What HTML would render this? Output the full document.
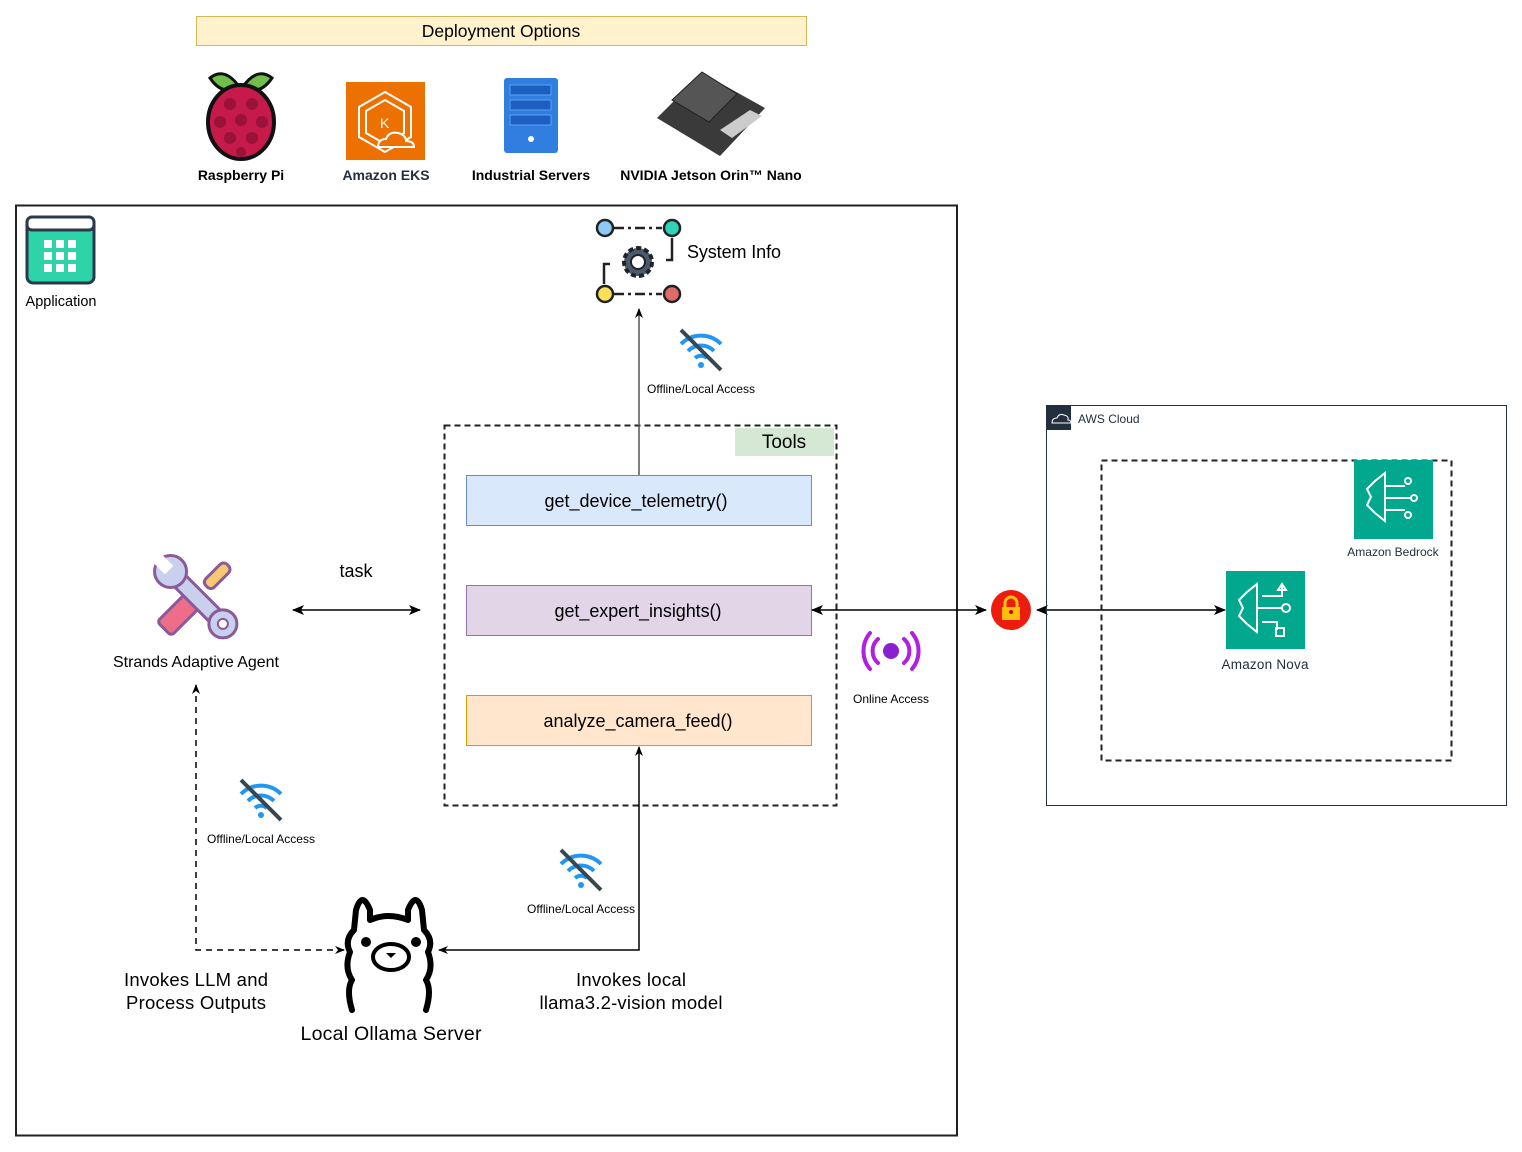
<!DOCTYPE html>
<html><head><meta charset="utf-8"><style>
html,body{margin:0;padding:0;background:#fff}
svg{display:block;font-family:"Liberation Sans",Arial,sans-serif}
</style></head><body>
<svg width="1522" height="1152" viewBox="0 0 1522 1152" xmlns="http://www.w3.org/2000/svg">
<defs>
<marker id="ar" markerWidth="12" markerHeight="12" refX="11" refY="6" orient="auto-start-reverse" markerUnits="userSpaceOnUse"><path d="M0,1 L12,6 L0,11 L3,6 z" fill="#000"/></marker>
<marker id="ars" markerWidth="10" markerHeight="10" refX="9" refY="5" orient="auto-start-reverse" markerUnits="userSpaceOnUse"><path d="M0,1 L10,5 L0,9 L3,5 z" fill="#000"/></marker>
</defs>
<!-- Deployment options -->
<rect x="196.5" y="16.5" width="610" height="29" fill="#fff2cc" stroke="#d6b656"/>
<text x="501" y="37" font-size="17.5" text-anchor="middle">Deployment Options</text>
<!-- raspberry -->
<g>
<path d="M210,78 q15,-12 30,10 q-18,8 -30,-10z M272,78 q-15,-12 -30,10 q18,8 30,-10z" fill="#6fbf4a" stroke="#111" stroke-width="3"/>
<ellipse cx="241" cy="122" rx="33" ry="37" fill="#c51a4a" stroke="#111" stroke-width="4"/>
<g fill="#9a1238"><circle cx="230" cy="104" r="6"/><circle cx="252" cy="104" r="6"/><circle cx="220" cy="122" r="6"/><circle cx="241" cy="120" r="6"/><circle cx="262" cy="122" r="6"/><circle cx="230" cy="138" r="6"/><circle cx="252" cy="138" r="6"/><circle cx="241" cy="152" r="5"/></g>
</g>
<text x="241" y="180" font-size="14" font-weight="bold" text-anchor="middle">Raspberry Pi</text>
<!-- EKS -->
<rect x="346" y="82" width="79" height="78" fill="#ed7100"/>
<path d="M385,92 l26,15 v30 l-26,15 l-26,-15 v-30z" fill="none" stroke="#fff" stroke-width="2"/>
<path d="M385,100 l19,11 v22 l-19,11 l-19,-11 v-22z" fill="none" stroke="#fff" stroke-width="2"/>
<text x="380" y="128" font-size="14" fill="#fff">K</text>
<path d="M378,147 q0,-8 8,-8 q3,-8 12,-6 q8,2 8,8 q8,0 8,6z" fill="#ed7100" stroke="#fff" stroke-width="2"/>
<text x="386" y="180" font-size="14" font-weight="bold" fill="#232f3e" text-anchor="middle">Amazon EKS</text>
<!-- server -->
<rect x="504" y="78" width="54" height="75" rx="3" fill="#2f7ee0"/>
<rect x="510" y="85" width="41" height="10" fill="#1d5fc0" stroke="#5aa0f0"/>
<rect x="510" y="100" width="41" height="10" fill="#1d5fc0" stroke="#5aa0f0"/>
<rect x="510" y="115" width="41" height="10" fill="#1d5fc0" stroke="#5aa0f0"/>
<circle cx="531" cy="139" r="3" fill="#fff"/>
<text x="531" y="180" font-size="14" font-weight="bold" text-anchor="middle">Industrial Servers</text>
<!-- jetson -->
<path d="M657,118 l45,-45 l63,35 l-45,48z" fill="#3a3a3a"/>
<path d="M672,100 l30,-28 l35,22 l-28,28z" fill="#555" stroke="#222"/>
<path d="M720,130 l30,-20 l12,6 l-30,22z" fill="#ccc"/>
<text x="711" y="180" font-size="14" font-weight="bold" text-anchor="middle">NVIDIA Jetson Orin™ Nano</text>
<!-- main container -->
<rect x="16" y="205.5" width="941" height="930" fill="none" stroke="#222" stroke-width="2"/>
<!-- app icon -->
<rect x="27" y="217" width="67" height="66" rx="6" fill="#2dd4a7" stroke="#2b3a4a" stroke-width="3"/>
<rect x="27" y="217" width="67" height="13" rx="5" fill="#fff" stroke="#2b3a4a" stroke-width="3"/>
<g fill="#fff"><rect x="44" y="240" width="8" height="8"/><rect x="56" y="240" width="8" height="8"/><rect x="68" y="240" width="8" height="8"/><rect x="44" y="252" width="8" height="8"/><rect x="56" y="252" width="8" height="8"/><rect x="68" y="252" width="8" height="8"/><rect x="44" y="264" width="8" height="8"/><rect x="56" y="264" width="8" height="8"/><rect x="68" y="264" width="8" height="8"/></g>
<text x="61" y="306" font-size="14.5" text-anchor="middle">Application</text>
<!-- system info icon -->
<g stroke="#222" stroke-width="2.5" fill="none">
<path d="M614,228 h48" stroke-dasharray="10,4,3,4"/><path d="M614,294 h48" stroke-dasharray="10,4,3,4"/>
<path d="M604,284 v-20 h6"/><path d="M672,238 v22 h-6"/>
</g>
<circle cx="605" cy="228" r="8" fill="#8ec9f5" stroke="#222" stroke-width="2.5"/>
<circle cx="672" cy="228" r="8" fill="#2dd4b8" stroke="#222" stroke-width="2.5"/>
<circle cx="605" cy="294" r="8" fill="#fbe05a" stroke="#222" stroke-width="2.5"/>
<circle cx="672" cy="294" r="8" fill="#e06a6a" stroke="#222" stroke-width="2.5"/>
<circle cx="638" cy="262" r="14" fill="#4a5a70" stroke="#222" stroke-width="4" stroke-dasharray="5,3"/>
<circle cx="638" cy="262" r="7" fill="#fff" stroke="#222" stroke-width="2"/>
<text x="687" y="258" font-size="18" textLength="94">System Info</text>
<!-- wifi-off icons -->
<g id="wf">
<g transform="translate(701,350)">
<path d="M-20,-6 a28,28 0 0 1 40,0" fill="none" stroke="#2196f3" stroke-width="4"/>
<path d="M-13,1 a18,18 0 0 1 26,0" fill="none" stroke="#2196f3" stroke-width="4"/>
<path d="M-6,8 a9,9 0 0 1 12,0" fill="none" stroke="#2196f3" stroke-width="4"/>
<circle cx="0" cy="15" r="3" fill="#2196f3"/>
<path d="M-20,-20 L20,20" stroke="#37474f" stroke-width="4"/>
</g></g>
<text x="701" y="393" font-size="12" text-anchor="middle" textLength="108">Offline/Local Access</text>
<use href="#wf" transform="translate(-440,450)"/>
<text x="261" y="843" font-size="12" text-anchor="middle" textLength="108">Offline/Local Access</text>
<use href="#wf" transform="translate(-120,520)"/>
<text x="581" y="913" font-size="12" text-anchor="middle" textLength="108">Offline/Local Access</text>
<!-- tools -->
<rect x="444.5" y="425.5" width="392" height="380" fill="none" stroke="#222" stroke-width="2" stroke-dasharray="6,4"/>
<rect x="735" y="428" width="99" height="28" fill="#d5e8d4"/>
<text x="784" y="448" font-size="19" text-anchor="middle">Tools</text>
<line x1="639" y1="475" x2="639" y2="309" stroke="#555" stroke-width="1.5" marker-end="url(#ars)"/>
<rect x="466.5" y="475.5" width="345" height="50" fill="#dae8fc" stroke="#6c8ebf"/>
<text x="636" y="507" font-size="18" text-anchor="middle" textLength="183">get_device_telemetry()</text>
<rect x="466.5" y="585.5" width="345" height="50" fill="#e1d5e7" stroke="#9673a6"/>
<text x="638" y="617" font-size="18" text-anchor="middle" textLength="167">get_expert_insights()</text>
<rect x="466.5" y="695.5" width="345" height="50" fill="#ffe6cc" stroke="#d79b00"/>
<text x="638" y="727" font-size="18" text-anchor="middle" textLength="189">analyze_camera_feed()</text>
<!-- agent -->
<g transform="translate(196,597) rotate(45)">
<rect x="-6" y="-45" width="12" height="30" rx="5" fill="#f7c873" stroke="#8a5a9a" stroke-width="3"/>
<rect x="-10" y="5" width="20" height="40" rx="4" fill="#ee6e8a" stroke="#8a5a9a" stroke-width="3"/>
</g>
<g transform="translate(196,597) rotate(-45)">
<rect x="-8" y="-32" width="16" height="64" fill="#c8d0ee" stroke="#8a5a9a" stroke-width="3"/>
<circle cx="0" cy="-36" r="16" fill="#c8d0ee" stroke="#8a5a9a" stroke-width="3"/>
<rect x="-6" y="-56" width="12" height="18" fill="#fff"/>
<circle cx="0" cy="38" r="14" fill="#c8d0ee" stroke="#8a5a9a" stroke-width="3"/>
<circle cx="0" cy="38" r="5" fill="#fff" stroke="#8a5a9a" stroke-width="2"/>
</g>
<text x="196" y="667" font-size="16" text-anchor="middle" textLength="166">Strands Adaptive Agent</text>
<text x="356" y="577" font-size="18" text-anchor="middle">task</text>
<line x1="293" y1="610" x2="420" y2="610" stroke="#000" stroke-width="1.5" marker-start="url(#ar)" marker-end="url(#ar)"/>
<!-- online link -->
<line x1="812" y1="610" x2="986" y2="610" stroke="#000" stroke-width="1.5" marker-start="url(#ar)" marker-end="url(#ar)"/>
<circle cx="1011" cy="610" r="20" fill="#ee1c0e"/>
<rect x="1002" y="607" width="18" height="13" fill="#fbbf0e"/>
<path d="M1005,607 v-4 a6,6 0 0 1 12,0 v4" fill="none" stroke="#fbbf0e" stroke-width="3"/>
<circle cx="1011" cy="612" r="2" fill="#c00"/>
<line x1="1037" y1="610" x2="1225" y2="610" stroke="#000" stroke-width="1.5" marker-start="url(#ar)" marker-end="url(#ar)"/>
<g fill="none" stroke="#b020e0" stroke-width="4" stroke-linecap="round">
<path d="M870,633 a28,28 0 0 0 0,36"/><path d="M878,639 a16,16 0 0 0 0,24"/>
<path d="M912,633 a28,28 0 0 1 0,36"/><path d="M904,639 a16,16 0 0 1 0,24"/>
</g>
<circle cx="891" cy="651" r="8" fill="#8a1ed0"/>
<text x="891" y="703" font-size="12" text-anchor="middle" textLength="76">Online Access</text>
<!-- AWS -->
<rect x="1046.5" y="405.5" width="460" height="400" fill="none" stroke="#232f3e"/>
<rect x="1046" y="405" width="25" height="25" fill="#232f3e"/>
<path d="M1052,423 q0,-5 5,-5 q2,-5 7,-3 q5,1 4,5 q3,0 3,3z" fill="none" stroke="#fff" stroke-width="1"/>
<text x="1078" y="423" font-size="12" fill="#232f3e">AWS Cloud</text>
<rect x="1101.5" y="460.5" width="350" height="300" fill="none" stroke="#222" stroke-width="2" stroke-dasharray="6,4"/>
<rect x="1354" y="460" width="79" height="79" fill="#01a88d"/>
<g fill="none" stroke="#fff" stroke-width="2"><path d="M1385,473 l-10,8 l-8,8 l4,8 l-4,8 l8,8 l10,8 v-48z"/><path d="M1385,486 h20 M1385,498 h25 M1385,510 h20"/><circle cx="1408" cy="481" r="3"/><circle cx="1414" cy="498" r="3"/><circle cx="1408" cy="515" r="3"/></g>
<text x="1393" y="556" font-size="12" fill="#232f3e" text-anchor="middle">Amazon Bedrock</text>
<rect x="1226" y="571" width="79" height="78" fill="#01a88d"/>
<g fill="none" stroke="#fff" stroke-width="2"><path d="M1257,584 l-10,8 l-8,8 l4,8 l-4,8 l8,8 l10,8 v-48z"/><path d="M1257,608 h24 M1262,596 h20 v-12 M1262,622 h15 v8"/><circle cx="1286" cy="608" r="4"/><path d="M1278,590 l4,-6 l4,6z"/><rect x="1276" y="628" width="8" height="8"/></g>
<text x="1265" y="669" font-size="13.5" fill="#232f3e" text-anchor="middle" textLength="87">Amazon Nova</text>
<!-- llama -->
<g fill="none" stroke="#000" stroke-width="6" stroke-linecap="round" stroke-linejoin="round">
<path d="M352,1010 q-6,-20 0,-30 q-8,-12 -2,-28 q-6,-12 4,-22 l2,-20 q6,-20 14,0 v10 q18,-8 38,0 v-10 q8,-20 14,0 l2,20 q10,10 4,22 q6,16 -2,28 q6,10 0,30"/>
</g>
<circle cx="366" cy="942" r="5" fill="#000"/><circle cx="416" cy="942" r="5" fill="#000"/>
<ellipse cx="391" cy="957" rx="18" ry="13" fill="none" stroke="#000" stroke-width="4"/>
<path d="M386,953 h10 l-5,5z" fill="#000"/>
<text x="391" y="1040" font-size="19.5" text-anchor="middle" textLength="181">Local Ollama Server</text>
<!-- dashed connector agent -> ollama -->
<path d="M196,685 V950 H344" fill="none" stroke="#000" stroke-width="1.5" stroke-dasharray="6,5" marker-start="url(#ars)" marker-end="url(#ars)"/>
<path d="M439,950 H639 V747" fill="none" stroke="#000" stroke-width="1.5" marker-start="url(#ars)" marker-end="url(#ars)"/>
<text x="196" y="986" font-size="18.5" text-anchor="middle" textLength="144">Invokes LLM and</text>
<text x="196" y="1009" font-size="18.5" text-anchor="middle" textLength="140">Process Outputs</text>
<text x="631" y="986" font-size="18.5" text-anchor="middle" textLength="110">Invokes local</text>
<text x="631" y="1009" font-size="18.5" text-anchor="middle" textLength="183">llama3.2-vision model</text>
</svg>
</body></html>
